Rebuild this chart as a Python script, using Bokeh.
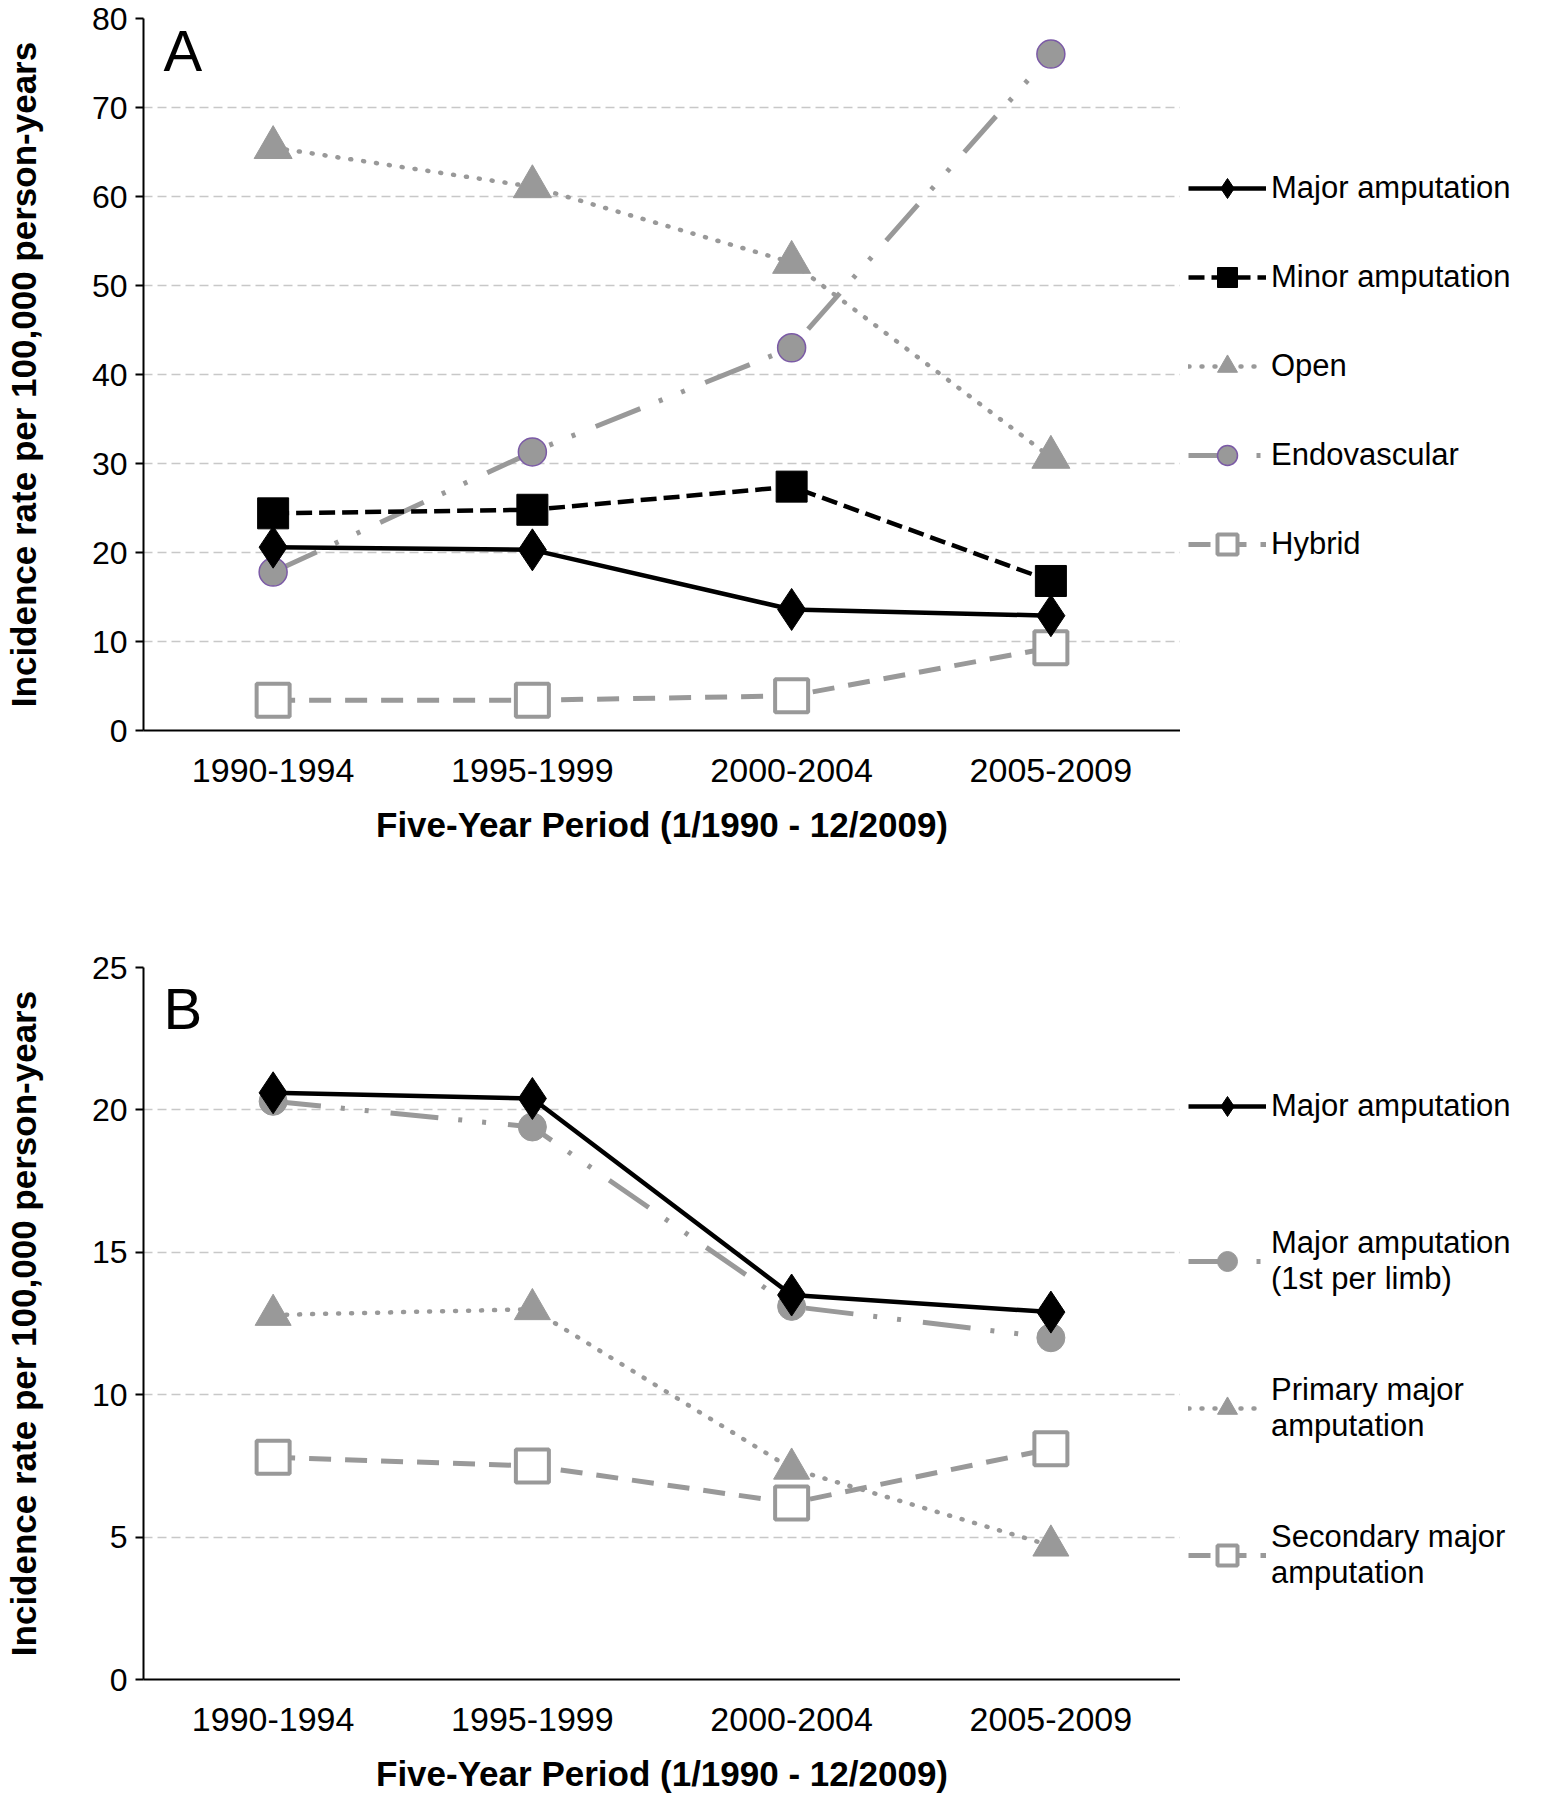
from bokeh.plotting import figure
from bokeh.models import (FactorRange, Range1d, FixedTicker, Legend, LegendItem, Label,
                          ColumnDataSource)
from bokeh.layouts import column, row
from bokeh.embed import file_html
from bokeh.resources import INLINE

# ---------------- data ----------------
periods = ["1990-1994", "1995-1999", "2000-2004", "2005-2009"]

# Panel A
a_major = [20.6, 20.3, 13.6, 12.9]
a_minor = [24.4, 24.8, 27.4, 16.8]
a_open = [65.5, 61.1, 52.6, 30.7]
a_endo = [17.8, 31.3, 43.0, 76.0]
a_hybrid = [3.4, 3.4, 3.9, 9.3]
a_ticks = [0, 10, 20, 30, 40, 50, 60, 70, 80]

# Panel B
b_major = [20.6, 20.4, 13.5, 12.9]
b_major_first = [20.3, 19.4, 13.1, 12.0]
b_primary = [12.8, 13.0, 7.4, 4.7]
b_secondary = [7.8, 7.5, 6.2, 8.1]
b_ticks = [0, 5, 10, 15, 20, 25]

x_title = "Five-Year Period (1/1990 - 12/2009)"
y_title = "Incidence rate per 100,000 person-years"

FONT = "Liberation Sans"
GRAY = "#999999"
MAIN_W = 1180
LEG_W = 361
LEFT = 142


def make_fig(height, ymax, ticks, top, bottom):
    p = figure(width=MAIN_W, height=height, x_range=FactorRange(factors=periods),
               y_range=Range1d(0, ymax), output_backend="svg", toolbar_location=None,
               min_border_left=LEFT, min_border_right=0, min_border_top=top,
               min_border_bottom=bottom)
    p.outline_line_color = None
    p.background_fill_color = "white"
    p.xgrid.grid_line_color = None
    p.ygrid.grid_line_color = "#c8c8c8"
    p.ygrid.grid_line_dash = "9 5"
    p.ygrid.grid_line_width = 1.5
    p.yaxis.ticker = FixedTicker(ticks=ticks)
    p.yaxis.minor_tick_line_color = None
    p.yaxis.major_tick_out = 8
    p.yaxis.major_tick_in = 0
    p.yaxis.major_tick_line_width = 2
    p.yaxis.major_label_standoff = 8
    p.axis.axis_line_width = 2
    p.axis.axis_line_color = "black"
    p.xaxis.major_tick_line_color = None
    p.xaxis.minor_tick_line_color = None
    p.xaxis.major_label_standoff = 22
    p.axis.major_label_text_font = FONT
    p.yaxis.major_label_text_font_size = "32px"
    p.xaxis.major_label_text_font_size = "34px"
    p.axis.major_label_text_color = "black"
    p.axis.axis_label_text_font = FONT
    p.axis.axis_label_text_font_size = "35px"
    p.axis.axis_label_text_font_style = "bold"
    p.axis.axis_label_text_color = "black"
    p.xaxis.axis_label = x_title
    p.yaxis.axis_label = y_title
    p.xaxis.axis_label_standoff = 20
    p.yaxis.axis_label_standoff = 46
    return p


def make_legend_fig(height, top, bottom):
    # side figure that only hosts the legend; its y-range lies far away from the data,
    # so its renderers only show up as legend samples
    q = figure(width=LEG_W, height=height, x_range=FactorRange(factors=periods),
               y_range=Range1d(-300, -200), output_backend="svg", toolbar_location=None,
               min_border_left=0, min_border_right=0, min_border_top=top,
               min_border_bottom=bottom, x_axis_type=None, y_axis_type=None)
    q.outline_line_color = None
    q.grid.grid_line_color = None
    q.background_fill_color = "white"
    return q


def series(p, q, vals, label, color, dash, lw, marker, msize, fill, mline, mlw, cap="butt"):
    line_kw = dict(line_color=color, line_width=lw, line_dash=dash, line_cap=cap)
    mark_kw = dict(marker=marker, fill_color=fill, line_color=mline, line_width=mlw)
    src = ColumnDataSource(dict(x=periods, y=vals))
    p.line("x", "y", source=src, **line_kw)
    p.scatter("x", "y", source=src, size=msize, **mark_kw)
    src2 = ColumnDataSource(dict(x=periods, y=vals))
    l1 = q.line("x", "y", source=src2, **line_kw)
    l2 = q.scatter("x", "y", source=src2, size=msize, **mark_kw)
    return LegendItem(label=label, renderers=[l1, l2])


def legend(items, loc, spacing):
    return Legend(items=items, location=loc, orientation="vertical",
                  label_text_font=FONT, label_text_font_size="31px", label_text_color="black",
                  glyph_width=78, glyph_height=50, label_standoff=5, spacing=spacing,
                  padding=6, margin=0, border_line_color=None, background_fill_alpha=0)


LONGDASH_DOTDOT = "48 20 4 20 4 22"
DOTS = "1 12"

# ---------------- panel A ----------------
HA, TA, BA = 851, 18, 121
pa = make_fig(HA, 80, a_ticks, TA, BA)
la = make_legend_fig(HA, TA, BA)
it_hyb = series(pa, la, a_hybrid, "Hybrid", GRAY, "22 14", 5, "square", 33, "white", GRAY, 4)
it_endo = series(pa, la, a_endo, "Endovascular", GRAY, LONGDASH_DOTDOT, 5, "circle", 28,
                 GRAY, "#7b5aa6", 1.5)
it_open = series(pa, la, a_open, "Open", GRAY, DOTS, 4.5, "triangle", 38, GRAY, GRAY, 1,
                 "round")
it_minor = series(pa, la, a_minor, "Minor amputation", "black", "16 7", 4.5, "square", 31,
                  "black", "black", 1)
it_major = series(pa, la, a_major, "Major amputation", "black", "solid", 4.5, "diamond", 42,
                  "black", "black", 1)

la.add_layout(legend([it_major, it_minor, it_open, it_endo, it_hyb], (8, 161), 39))
pa.add_layout(Label(x=0.077, y=80.1, text="A", text_font=FONT, text_font_size="58px",
                    text_baseline="top", text_align="left", text_color="black"))

# ---------------- panel B ----------------
HB, TB, BB = 949, 116, 121
pb = make_fig(HB, 25, b_ticks, TB, BB)
lb = make_legend_fig(HB, TB, BB)
it_sec = series(pb, lb, b_secondary, "Secondary major\namputation", GRAY, "22 14", 5,
                "square", 33, "white", GRAY, 4)
it_prim = series(pb, lb, b_primary, "Primary major\namputation", GRAY, DOTS, 4.5,
                 "triangle", 36, GRAY, GRAY, 1, "round")
it_first = series(pb, lb, b_major_first, "Major amputation\n(1st per limb)", GRAY,
                  LONGDASH_DOTDOT, 5, "circle", 28, GRAY, GRAY, 1)
it_bmaj = series(pb, lb, b_major, "Major amputation", "black", "solid", 4.5, "diamond", 42,
                 "black", "black", 1)

lb.add_layout(legend([it_bmaj], (8, 548), 0))
lb.add_layout(legend([it_first, it_prim, it_sec], (8, 88), 75))
pb.add_layout(Label(x=0.077, y=24.69, text="B", text_font=FONT, text_font_size="58px",
                    text_baseline="top", text_align="left", text_color="black"))

layout = column(row(pa, la, spacing=0), row(pb, lb, spacing=0), spacing=0)
open("out.html", "w").write(file_html(layout, INLINE))
